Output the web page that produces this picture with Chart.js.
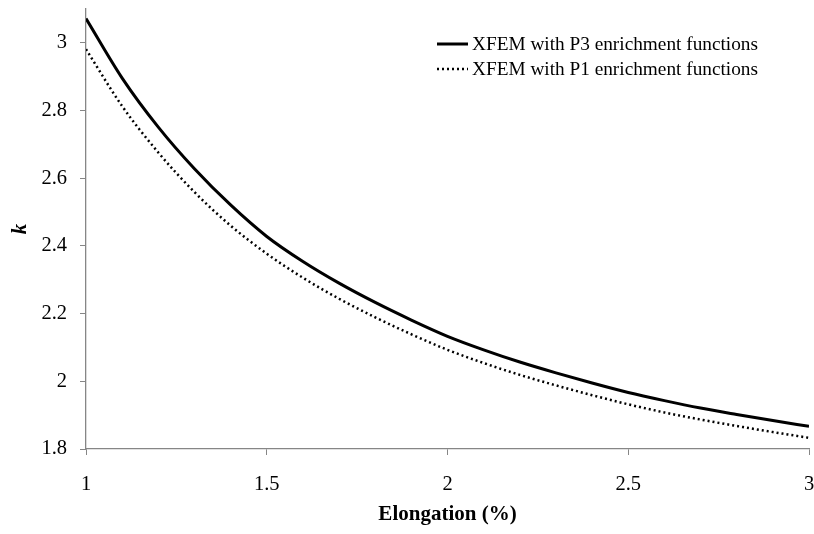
<!DOCTYPE html>
<html>
<head>
<meta charset="utf-8">
<script src="https://cdn.jsdelivr.net/npm/chart.js@4"></script>
<style>
  html, body { margin: 0; padding: 0; background: #ffffff; }
  #wrap { width: 814px; height: 534px; }
</style>
</head>
<body>
<div id="wrap"><canvas id="chart" width="814" height="534"></canvas></div>
<script>
// values
const elongation = [1.0, 1.1, 1.2, 1.3, 1.4, 1.5, 1.6, 1.7, 1.8, 1.9, 2.0,
                    2.1, 2.2, 2.3, 2.4, 2.5, 2.6, 2.7, 2.8, 2.9, 3.0];
const kP3 = [3.072, 2.896, 2.751, 2.628, 2.521, 2.428, 2.354, 2.290, 2.233, 2.181, 2.133,
             2.093, 2.057, 2.025, 1.995, 1.967, 1.943, 1.921, 1.902, 1.884, 1.867];
const kP1 = [2.981, 2.813, 2.676, 2.559, 2.460, 2.377, 2.306, 2.244, 2.189, 2.139, 2.093,
             2.054, 2.019, 1.988, 1.959, 1.932, 1.908, 1.887, 1.868, 1.850, 1.833];
const seriesLabels = ['XFEM with P3 enrichment functions', 'XFEM with P1 enrichment functions'];

const axisGray = '#868686';
const serif = "'Liberation Serif', 'Times New Roman', serif";

const toPoints = (xs, ys) => xs.map((x, i) => ({ x: x, y: ys[i] }));
// 1.0 -> "1", 2.5 -> "2.5"
const trimTick = v => String(parseFloat(Number(v).toFixed(2)));

// legend drawn inside the plot, top right, stacked like the original
const innerLegend = {
    id: 'innerLegend',
    afterDraw(chart) {
        const ctx = chart.ctx;
        const x0 = 437, x1 = 468, tx = 472;
        const rows = [44, 69];
        ctx.save();
        chart.data.datasets.forEach((ds, i) => {
            ctx.strokeStyle = ds.borderColor;
            ctx.lineWidth = ds.borderWidth;
            ctx.setLineDash(ds.borderDash || []);
            ctx.beginPath();
            ctx.moveTo(x0, rows[i]);
            ctx.lineTo(x1, rows[i]);
            ctx.stroke();
            ctx.setLineDash([]);
            ctx.fillStyle = '#000';
            ctx.font = '19.3px ' + serif;
            ctx.textBaseline = 'middle';
            ctx.fillText(ds.label, tx, rows[i] + 1);
        });
        ctx.restore();
    }
};

new Chart(document.getElementById('chart'), {
    type: 'line',
    data: {
        datasets: [
            {
                label: seriesLabels[0],
                data: toPoints(elongation, kP3),
                borderColor: '#000',
                borderWidth: 3,
                pointRadius: 0,
                cubicInterpolationMode: 'monotone'
            },
            {
                label: seriesLabels[1],
                data: toPoints(elongation, kP1),
                borderColor: '#000',
                borderWidth: 2.5,
                borderDash: [2, 3],
                pointRadius: 0,
                cubicInterpolationMode: 'monotone'
            }
        ]
    },
    options: {
        responsive: false,
        animation: false,
        layout: { padding: { top: 9, right: 5, left: 0, bottom: 0 } },
        plugins: {
            legend: { display: false },
            tooltip: { enabled: false }
        },
        scales: {
            x: {
                type: 'linear',
                min: 1,
                max: 3,
                ticks: { stepSize: 0.5, color: '#000', padding: 17, callback: trimTick,
                         font: { family: serif, size: 20.5 } },
                grid: { drawOnChartArea: false, drawTicks: true, tickLength: 6, tickColor: axisGray },
                border: { color: axisGray, width: 1.3 },
                title: {
                    display: true,
                    text: 'Elongation (%)',
                    color: '#000',
                    font: { family: serif, size: 21, weight: 'bold' },
                    padding: { top: 0, bottom: 7 }
                },
                afterFit(scale) {
                    scale.height = 85;
                    scale.paddingLeft = 0;
                    scale.paddingRight = 0;
                }
            },
            y: {
                min: 1.8,
                max: 3.1,
                ticks: { stepSize: 0.2, includeBounds: false, color: '#000', padding: 13, callback: trimTick,
                         font: { family: serif, size: 20.5 } },
                grid: { drawOnChartArea: false, drawTicks: true, tickLength: 6, tickColor: axisGray },
                border: { color: axisGray, width: 1.3 },
                title: {
                    display: true,
                    text: 'k',
                    color: '#000',
                    font: { family: serif, size: 21, weight: 'bold', style: 'italic' },
                    padding: { top: 8, bottom: 0 }
                },
                afterFit(scale) {
                    scale.width = 86;
                    scale.paddingTop = 0;
                    scale.paddingBottom = 0;
                }
            }
        }
    },
    plugins: [innerLegend]
});
</script>
</body>
</html>
